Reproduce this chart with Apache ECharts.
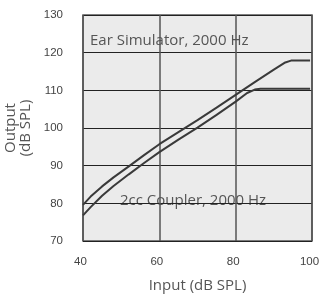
<!DOCTYPE html>
<html>
<head>
<meta charset="utf-8">
<script src="https://cdn.jsdelivr.net/npm/echarts@6/dist/echarts.min.js"></script>
<style>
  * { margin: 0; padding: 0; }
  html, body, #chart { width: 320px; height: 294px; overflow: hidden; background: #fff; }
</style>
</head>
<body>
<div id="chart"></div>
<script>
  // input level (dB SPL) -> output level (dB SPL)
  var earSimulator = [
    [40, 79.6], [42, 81.8], [45, 84.5], [48, 86.9], [52, 89.8], [56, 92.8],
    [60, 95.7], [65, 98.9], [70, 102.1], [75, 105.4], [80, 108.8], [85, 112.2],
    [90, 115.5], [93, 117.4], [94.5, 117.9], [99.5, 117.9]
  ];
  var coupler2cc = [
    [40, 76.8], [42, 79.0], [45, 82.0], [48, 84.6], [52, 87.7], [56, 90.7],
    [60, 93.6], [65, 96.9], [70, 100.1], [75, 103.5], [80, 107.0], [83, 109.3],
    [85, 110.2], [86.5, 110.4], [99.5, 110.4]
  ];
  var xTicks = { min: 40, max: 100, step: 20 };
  var yTicks = { min: 70, max: 130, step: 10 };
  var labels = ['Ear Simulator, 2000 Hz', '2cc Coupler, 2000 Hz'];

  var font = '"Open Sans", "Noto Sans", sans-serif';
  var tickFont = '"Liberation Sans", Arial, sans-serif';
  var txt = '#555';
  var chart = echarts.init(document.getElementById('chart'));
  var lineStyle = { color: '#3a3a3a', width: 2 };

  chart.setOption({
    animation: false,
    grid: {
      left: 83, right: 8, top: 15, bottom: 53, outerBoundsMode: 'none', containLabel: false,
      show: true, backgroundColor: '#ebebeb', borderColor: '#555', borderWidth: 1.5
    },
    xAxis: {
      type: 'value', min: xTicks.min, max: xTicks.max, interval: xTicks.step,
      name: 'Input (dB SPL)', nameLocation: 'middle', nameGap: 37,
      nameTextStyle: { fontSize: 15, color: txt, fontFamily: font },
      axisLine: { show: false }, axisTick: { show: false },
      axisLabel: { margin: 15, fontSize: 11.5, color: '#444', fontFamily: tickFont, padding: [0, 5, 0, 0] },
      splitLine: { lineStyle: { color: '#555', width: 1.5 } }
    },
    yAxis: {
      type: 'value', min: yTicks.min, max: yTicks.max, interval: yTicks.step,
      name: 'Output\n(dB SPL)', nameLocation: 'middle', nameGap: 21,
      nameTextStyle: { fontSize: 15, color: txt, fontFamily: font, lineHeight: 15 },
      axisLine: { show: false }, axisTick: { show: false },
      axisLabel: { margin: 20, fontSize: 11.5, color: '#444', fontFamily: tickFont },
      splitLine: { lineStyle: { color: '#222', width: 1.2 } }
    },
    series: [
      { type: 'line', name: labels[0], data: earSimulator, showSymbol: false, lineStyle: lineStyle },
      { type: 'line', name: labels[1], data: coupler2cc, showSymbol: false, lineStyle: lineStyle }
    ],
    graphic: [
      { type: 'text', left: 90, top: 33, style: { text: labels[0], fontSize: 15, fill: txt, fontFamily: font } },
      { type: 'text', left: 120, top: 193, style: { text: labels[1], fontSize: 15, fill: txt, fontFamily: font } }
    ]
  });
</script>
</body>
</html>
